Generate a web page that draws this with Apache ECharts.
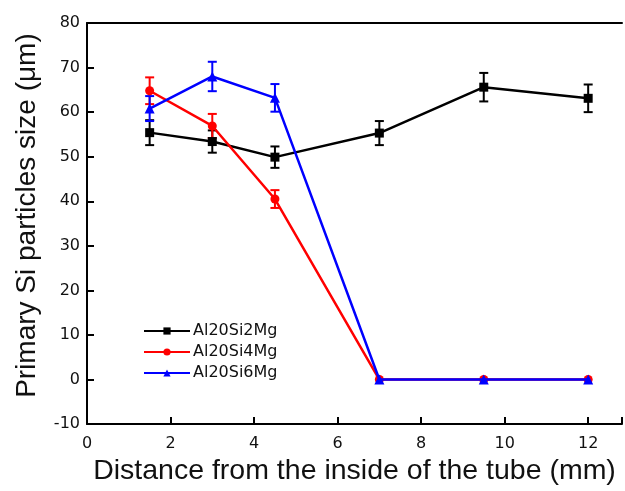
<!DOCTYPE html>
<html>
<head>
<meta charset="utf-8">
<script src="https://cdn.jsdelivr.net/npm/echarts@6/dist/echarts.min.js"></script>
<style>html,body{margin:0;padding:0;background:#fff}#c{width:625px;height:491px}</style>
</head>
<body>
<div id="c"></div>
<script>
var distances = [1.5, 3, 4.5, 7, 9.5, 12];
var names = ['Al20Si2Mg', 'Al20Si4Mg', 'Al20Si6Mg'];
var si2 = [55.4, 53.4, 49.9, 55.3, 65.6, 63.1];
var si2Err = [2.8, 2.5, 2.4, 2.7, 3.2, 3.1];
var si4 = [64.8, 56.9, 40.5, 0, 0, 0];
var si4Err = [3.0, 2.7, 2.0, 0, 0, 0];
var si6 = [60.8, 68.0, 63.2, 0, 0, 0];
var si6Err = [2.8, 3.3, 3.1, 0, 0, 0];
var colors = ['#000000', '#ff0000', '#0000ff'];
var symbols = ['rect', 'circle', 'triangle'];
var FONT = 'DejaVu Sans';
var TFONT = 'Liberation Sans';

function pairs(vals) { return distances.map(function (d, i) { return [d, vals[i]]; }); }
function errData(vals, errs) {
  var out = [];
  distances.forEach(function (d, i) { if (errs[i] > 0) out.push([d, vals[i] - errs[i], vals[i] + errs[i]]); });
  return out;
}
function errSeries(vals, errs, color) {
  return {
    type: 'custom', silent: true, z: 1,
    data: errData(vals, errs),
    renderItem: function (params, api) {
      var x = api.value(0);
      var lo = api.coord([x, api.value(1)]);
      var hi = api.coord([x, api.value(2)]);
      var w = 4.5;
      var st = { stroke: color, lineWidth: 2 };
      return { type: 'group', children: [
        { type: 'line', shape: { x1: lo[0], y1: lo[1], x2: hi[0], y2: hi[1] }, style: st },
        { type: 'line', shape: { x1: lo[0] - w, y1: lo[1], x2: lo[0] + w, y2: lo[1] }, style: st },
        { type: 'line', shape: { x1: hi[0] - w, y1: hi[1], x2: hi[0] + w, y2: hi[1] }, style: st }
      ]};
    }
  };
}
var allVals = [si2, si4, si6], allErr = [si2Err, si4Err, si6Err];
var series = [];
for (var k = 0; k < 3; k++) {
  series.push(errSeries(allVals[k], allErr[k], colors[k]));
  series.push({
    name: names[k], type: 'line', data: pairs(allVals[k]), z: 2 + k,
    symbol: symbols[k], symbolSize: k === 2 ? 10 : 9,
    lineStyle: { color: colors[k], width: 2.5 },
    itemStyle: { color: colors[k] },
    animation: false
  });
}
var chart = echarts.init(document.getElementById('c'), null, { renderer: 'canvas' });
chart.setOption({
  animation: false,
  backgroundColor: '#fff',
  grid: { left: 87, top: 23, right: 0, bottom: 61, containLabel: false },
  legend: {
    data: names, orient: 'vertical', left: 138, top: 318, itemGap: 5,
    itemWidth: 46, itemHeight: 9,
    textStyle: { fontFamily: FONT, fontSize: 16, color: '#111', padding: [0, 0, 0, -2] }
  },
  xAxis: [{
    type: 'value', min: 0, max: 12.81, interval: 2,
    name: 'Distance from the inside of the tube (mm)', nameLocation: 'middle', nameGap: 31,
    nameTextStyle: { fontFamily: TFONT, fontSize: 28.5, color: '#111' },
    axisLine: { onZero: false, lineStyle: { color: '#000', width: 2 } },
    axisTick: { inside: true, length: 7, lineStyle: { color: '#000', width: 2 } },
    axisLabel: { fontFamily: FONT, fontSize: 16, color: '#111', margin: 12,
      formatter: function (v) { return v % 2 === 0 ? String(v) : ''; } },
    splitLine: { show: false }
  }, {
    type: 'value', position: 'top', min: 0, max: 12.81,
    axisLine: { show: true, onZero: false, lineStyle: { color: '#000', width: 2 } },
    axisTick: { show: false }, axisLabel: { show: false }, splitLine: { show: false }
  }],
  yAxis: {
    type: 'value', min: -10, max: 80, interval: 10,
    name: 'Primary Si particles size (\u03bcm)', nameLocation: 'middle', nameGap: 46,
    nameTextStyle: { fontFamily: TFONT, fontSize: 28, color: '#111', padding: [0, 0, 0, 16] },
    axisLine: { onZero: false, lineStyle: { color: '#000', width: 2 } },
    axisTick: { inside: true, length: 7, lineStyle: { color: '#000', width: 2 } },
    axisLabel: { fontFamily: FONT, fontSize: 16, color: '#111', margin: 7 },
    splitLine: { show: false }
  },
  series: series
});
</script>
</body>
</html>
